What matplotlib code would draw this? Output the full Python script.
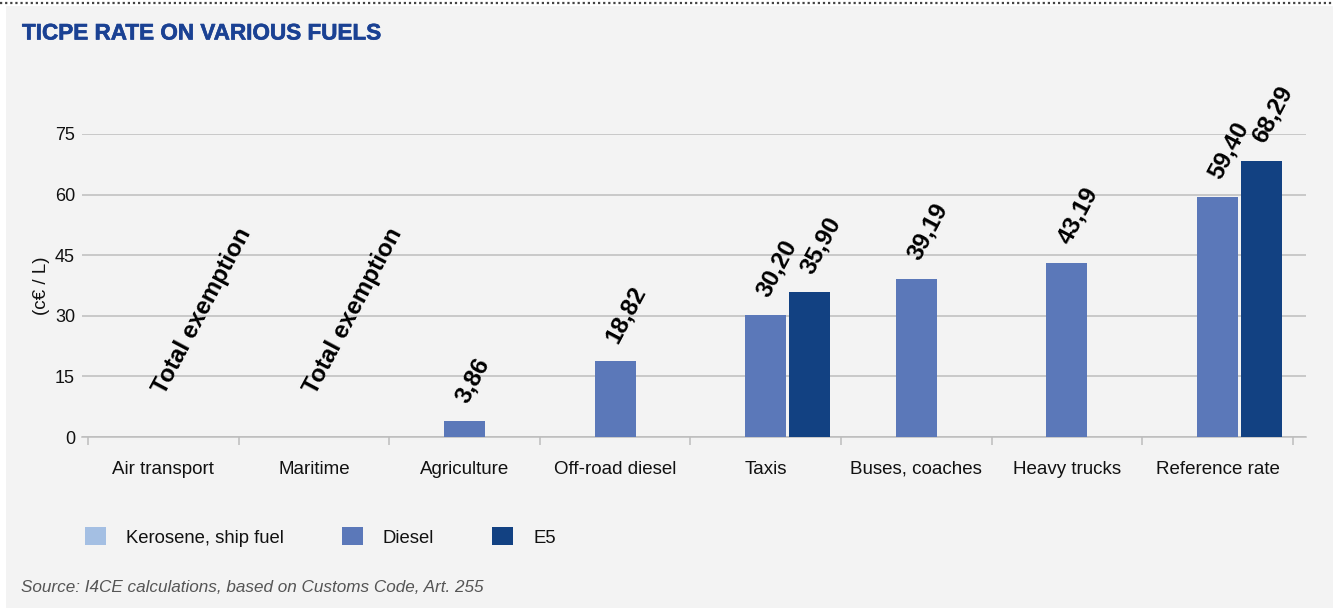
import matplotlib
matplotlib.use("Agg")
import matplotlib.pyplot as plt
import matplotlib.patheffects as pe
import numpy as np
from matplotlib.patches import Rectangle, Patch
from matplotlib.lines import Line2D

plt.rcParams['font.family'] = ['Liberation Sans', 'DejaVu Sans']

#=======================================================
categories = ["Air transport", "Maritime", "Agriculture", "Off-road diesel",
              "Taxis", "Buses, coaches", "Heavy trucks", "Reference rate"]
series_names = ["Kerosene, ship fuel", "Diesel", "E5"]
kerosene = [0.0, 0.0, None, None, None, None, None, None]
diesel = [None, None, 3.86, 18.82, 30.20, 39.19, 43.19, 59.40]
e5 = [None, None, None, None, 35.90, None, None, 68.29]
yticks = [0, 15, 30, 45, 60, 75]

colors = ["#A4BFE3", "#5B78B9", "#124182"]
title_color = "#1A4193"
grid_color = "#BDBDBD"
bg = "#F3F3F3"

#=======================================================
W, H = 1333, 608
fig = plt.figure(figsize=(W / 100, H / 100), dpi=100)
fig.patch.set_facecolor("white")

# grey panel and dotted rule on top
fig.patches.append(Rectangle((6 / W, 0), 1, 1 - 6 / H, transform=fig.transFigure,
                             facecolor=bg, edgecolor="none", zorder=-10))
fig.lines.append(Line2D([0, 1], [1 - 2.5 / H, 1 - 2.5 / H], transform=fig.transFigure,
                        color="#444444", lw=1.6, linestyle=(0, (1, 1.3))))

ax = fig.add_axes([82 / W, 1 - 437 / H, (1306 - 82) / W, (437 - 134) / H])
ax.set_facecolor(bg)

x = np.arange(len(categories))
width = 0.272
step = 0.292

def value_label(v):
    return f"{v:.2f}".replace(".", ",")

label_kw = dict(textcoords="offset pixels", rotation=62, rotation_mode="anchor",
                ha="left", va="center", fontsize=17.5, fontweight="bold",
                color="black", annotation_clip=False, zorder=5)

for k, vals in enumerate([kerosene, diesel, e5]):
    for i, v in enumerate(vals):
        if v is None:
            continue
        xc = x[i] + (k - 1) * step
        ax.bar(xc, v, width=width, color=colors[k], zorder=3)
        if v == 0:
            # exempted fuels: no bar, text instead
            ax.annotate("Total exemption", xy=(x[i] - 0.03, 0), xytext=(0, 44), **label_kw)
        else:
            ax.annotate(value_label(v), xy=(xc - 0.02, v), xytext=(0, 20), **label_kw)

ax.set_xlim(-0.54, 7.588)
ax.set_ylim(0, 75)
ax.set_yticks(yticks)
ax.set_yticklabels([str(t) for t in yticks])
ax.yaxis.grid(True, color=grid_color, lw=1.1, zorder=0)
ax.set_axisbelow(True)
ax.tick_params(axis="y", length=0, pad=5, labelsize=13, labelcolor="#111111")

ax.set_xticks(x)
ax.set_xticklabels(categories)
ax.set_xticks(np.arange(-0.5, len(categories)), minor=True)
ax.tick_params(axis="x", which="major", length=0, pad=26.5, labelsize=13.5, labelcolor="#111111")
ax.tick_params(axis="x", which="minor", length=6, width=1.1, color=grid_color)
for t in ax.get_xticklabels():
    t.set_verticalalignment("baseline")

for s in ["top", "right", "left"]:
    ax.spines[s].set_visible(False)
ax.spines["bottom"].set_color(grid_color)
ax.spines["bottom"].set_linewidth(1.1)

ax.set_ylabel("(c€ / L)", fontsize=13.5, color="#111111")
ax.yaxis.set_label_coords(-0.026, 0.5)

#=======================================================
fig.text(22 / W, 1 - 34 / H, "TICPE RATE ON VARIOUS FUELS", fontsize=16.2,
         fontweight="bold", color=title_color, va="center", ha="left",
         path_effects=[pe.withStroke(linewidth=0.45, foreground=title_color)])

handles = [Patch(facecolor=c, edgecolor="none") for c in colors]
fig.legend(handles, series_names, loc="center left", bbox_to_anchor=(85 / W, 1 - 537 / H),
           ncol=3, frameon=False, fontsize=13.3, handlelength=1.13, handleheight=1.13,
           handletextpad=1.08, columnspacing=3.15, borderpad=0, borderaxespad=0,
           labelcolor="#111111")

fig.text(21 / W, 1 - 588 / H, "Source: I4CE calculations, based on Customs Code, Art. 255",
         fontsize=12.3, style="italic", color="#555555", va="center", ha="left")

fig.savefig("out.png", dpi=100, facecolor=fig.get_facecolor())
